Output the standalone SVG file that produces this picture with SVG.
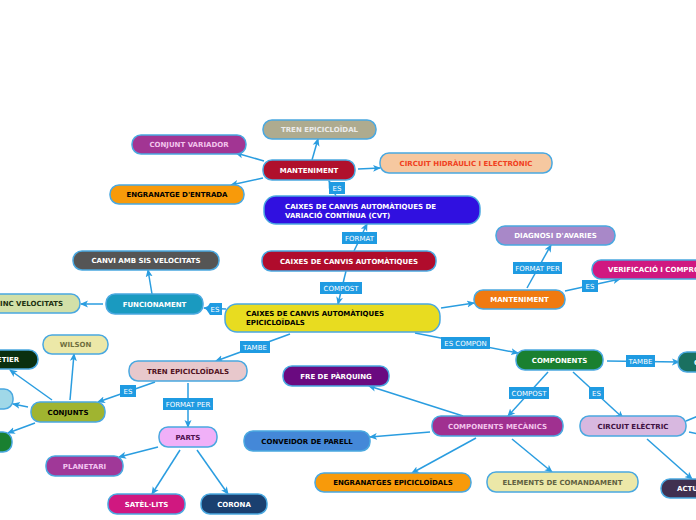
<svg xmlns="http://www.w3.org/2000/svg" width="696" height="520" viewBox="0 0 696 520">
<defs>
<marker id="ah" markerWidth="8" markerHeight="8" refX="7" refY="4" orient="auto" markerUnits="userSpaceOnUse">
<path d="M0,0.5 L8,4 L0,7.5 L2,4 Z" fill="#2a9de0"/>
</marker>
<style>
.n rect{stroke:#4aa8e0;stroke-width:1.5}
.n text{font-family:"DejaVu Sans",Verdana,sans-serif;font-weight:bold;font-size:7px;text-anchor:middle}
.n text.l{text-anchor:start}
.c line{stroke:#2a9de0;stroke-width:1.5;marker-end:url(#ah)}
.c line.na{marker-end:none}
.t rect,.t polygon{fill:#1f9be2}
.t text{font-family:"DejaVu Sans",Verdana,sans-serif;font-size:7px;fill:#ffffff;text-anchor:middle}
</style>
</defs>
<rect width="696" height="520" fill="#ffffff"/>
<g class="c" id="connectors">
<line x1="336" y1="196" x2="329" y2="181"/>
<line x1="312" y1="160" x2="318" y2="139"/>
<line x1="264" y1="161" x2="236" y2="153"/>
<line x1="263" y1="178" x2="231" y2="185"/>
<line x1="358" y1="169" x2="380" y2="168"/>
<line x1="354" y1="251" x2="367" y2="224"/>
<line x1="346" y1="271" x2="338" y2="304"/>
<line x1="226" y1="309" x2="204" y2="308"/>
<line x1="152" y1="294" x2="148" y2="270"/>
<line x1="103" y1="304" x2="81" y2="304"/>
<line x1="441" y1="308" x2="474" y2="303"/>
<line x1="527" y1="288" x2="551" y2="245"/>
<line x1="565" y1="291" x2="620" y2="279"/>
<line x1="415" y1="333" x2="518" y2="353"/>
<line x1="290" y1="334" x2="216" y2="361"/>
<line x1="607" y1="361" x2="679" y2="362"/>
<line x1="548" y1="372" x2="508" y2="416"/>
<line x1="573" y1="372" x2="623" y2="418"/>
<line x1="155" y1="382" x2="98" y2="402"/>
<line x1="188" y1="383" x2="188" y2="427"/>
<line x1="70" y1="400" x2="74" y2="354"/>
<line x1="52" y1="400" x2="10" y2="370"/>
<line x1="28" y1="407" x2="13" y2="404"/>
<line x1="35" y1="423" x2="8" y2="433"/>
<line x1="158" y1="447" x2="119" y2="457"/>
<line x1="180" y1="450" x2="152" y2="494"/>
<line x1="197" y1="450" x2="228" y2="494"/>
<line x1="463" y1="416" x2="369" y2="386"/>
<line x1="430" y1="432" x2="370" y2="437"/>
<line x1="476" y1="438" x2="412" y2="473"/>
<line x1="512" y1="439" x2="552" y2="472"/>
<line x1="647" y1="439" x2="692" y2="479"/>
<line class="na" x1="686" y1="421" x2="698" y2="416"/>
<line class="na" x1="689" y1="432" x2="698" y2="434"/>
</g>
<g class="t" id="labels">
<g><rect x="329" y="182" width="16" height="12"/><text x="337" y="191">ES</text></g>
<g><rect x="342" y="232" width="35" height="12"/><text x="359.5" y="241">FORMAT</text></g>
<g><rect x="320" y="282" width="42" height="12"/><text x="341" y="291">COMPOST</text></g>
<g><polygon points="206,309 210,303 222,303 222,315 210,315"/><text x="215" y="312">ES</text></g>
<g><rect x="513" y="262" width="49" height="12"/><text x="537.5" y="271">FORMAT PER</text></g>
<g><rect x="582" y="280" width="16" height="12"/><text x="590" y="289">ES</text></g>
<g><rect x="240" y="341" width="30" height="12"/><text x="255" y="350">TAMBE</text></g>
<g><rect x="441" y="337" width="49" height="12"/><text x="465.5" y="346">ES COMPON</text></g>
<g><rect x="626" y="355" width="29" height="12"/><text x="640.5" y="364">TAMBE</text></g>
<g><rect x="509" y="387" width="40" height="12"/><text x="529" y="396">COMPOST</text></g>
<g><rect x="589" y="387" width="15" height="12"/><text x="596.5" y="396">ES</text></g>
<g><rect x="120" y="385" width="16" height="12"/><text x="128" y="394">ES</text></g>
<g><rect x="163" y="398" width="50" height="12"/><text x="188" y="407">FORMAT PER</text></g>
</g>
<g class="n" id="n-tren-epicicloidal"><rect x="263" y="120" width="113" height="19" rx="9" fill="#aeab8f"/><text x="319.5" y="132" fill="#ececec">TREN EPICICLOÏDAL</text></g>
<g class="n" id="n-conjunt-variador"><rect x="132" y="135" width="114" height="19" rx="9" fill="#a23593"/><text x="189" y="147" fill="#f2c4ec">CONJUNT VARIADOR</text></g>
<g class="n" id="n-manteniment1"><rect x="263" y="160" width="92" height="20" rx="9" fill="#b0102c"/><text x="309" y="172.5" fill="#ffffff">MANTENIMENT</text></g>
<g class="n" id="n-circuit-hidraulic"><rect x="380" y="153" width="172" height="20" rx="9" fill="#f6c8a0"/><text x="466" y="165.5" fill="#f04020">CIRCUIT HIDRÀULIC I ELECTRÒNIC</text></g>
<g class="n" id="n-engranatge"><rect x="110" y="185" width="134" height="19" rx="9" fill="#f89a0a"/><text x="177" y="197" fill="#000000">ENGRANATGE D'ENTRADA</text></g>
<g class="n" id="n-cvt"><rect x="264" y="196" width="216" height="28" rx="12" fill="#3010e0"/><text class="l" x="285" y="208.5" fill="#ffffff">CAIXES DE CANVIS AUTOMÀTIQUES DE</text><text class="l" x="285" y="217.5" fill="#ffffff">VARIACIÓ CONTÍNUA (CVT)</text></g>
<g class="n" id="n-caixes-auto"><rect x="262" y="251" width="174" height="20" rx="9" fill="#b00c2c"/><text x="349" y="263.5" fill="#ffffff">CAIXES DE CANVIS AUTOMÀTIQUES</text></g>
<g class="n" id="n-canvi-sis"><rect x="73" y="251" width="146" height="19" rx="9" fill="#555555"/><text x="146" y="263" fill="#ffffff">CANVI AMB SIS VELOCITATS</text></g>
<g class="n" id="n-funcionament"><rect x="106" y="294" width="97" height="20" rx="9" fill="#1a9ac0"/><text x="154.5" y="306.5" fill="#ffffff">FUNCIONAMENT</text></g>
<g class="n" id="n-cinc"><rect x="-22" y="294" width="102" height="19" rx="9" fill="#d2e0a8"/><text x="29" y="306" fill="#203010">CINC VELOCITATS</text></g>
<g class="n" id="n-main"><rect x="225" y="304" width="215" height="28" rx="12" fill="#e8dc20"/><text class="l" x="246" y="316" fill="#000000">CAIXES DE CANVIS AUTOMÀTIQUES</text><text class="l" x="246" y="325" fill="#000000">EPICICLOÏDALS</text></g>
<g class="n" id="n-manteniment2"><rect x="474" y="290" width="91" height="19" rx="9" fill="#f07a10"/><text x="519.5" y="302" fill="#ffffff">MANTENIMENT</text></g>
<g class="n" id="n-diagnosi"><rect x="496" y="226" width="119" height="19" rx="9" fill="#a888c8"/><text x="555.5" y="238" fill="#ffffff">DIAGNOSI D'AVARIES</text></g>
<g class="n" id="n-verificacio"><rect x="592" y="260" width="140" height="19" rx="9" fill="#d01880"/><text class="l" x="608" y="272" fill="#ffffff">VERIFICACIÓ I COMPROVACIÓ</text></g>
<g class="n" id="n-components"><rect x="516" y="350" width="87" height="20" rx="9" fill="#1a8030"/><text x="559.5" y="362.5" fill="#ffffff">COMPONENTS</text></g>
<g class="n" id="n-teal"><rect x="678" y="352" width="110" height="20" rx="9" fill="#1a7060"/><text class="l" x="694" y="364.5" fill="#ffffff">CIRCUIT HIDRÀULIC</text></g>
<g class="n" id="n-wilson"><rect x="43" y="335" width="65" height="19" rx="9" fill="#ece8a8"/><text x="75.5" y="347" fill="#707040">WILSON</text></g>
<g class="n" id="n-lepelletier"><rect x="-60" y="350" width="98" height="19" rx="9" fill="#0a3010"/><text x="-6" y="362" fill="#ffffff">LEPELLETIER</text></g>
<g class="n" id="n-tren-epicicloidals"><rect x="129" y="361" width="118" height="20" rx="9" fill="#e8c8cc"/><text x="188" y="373.5" fill="#501020">TREN EPICICLOÏDALS</text></g>
<g class="n" id="n-lightblue"><rect x="-60" y="389" width="73" height="20" rx="9" fill="#a0d8e8"/></g>
<g class="n" id="n-conjunts"><rect x="31" y="402" width="74" height="20" rx="9" fill="#a0b430"/><text x="68" y="414.5" fill="#000000">CONJUNTS</text></g>
<g class="n" id="n-green"><rect x="-60" y="432" width="72" height="20" rx="9" fill="#1a8030"/></g>
<g class="n" id="n-parts"><rect x="159" y="427" width="58" height="20" rx="9" fill="#f0b0f8"/><text x="188" y="439.5" fill="#501050">PARTS</text></g>
<g class="n" id="n-fre"><rect x="283" y="366" width="106" height="20" rx="9" fill="#6a0a80"/><text x="336" y="378.5" fill="#ffffff">FRE DE PÀRQUING</text></g>
<g class="n" id="n-conveidor"><rect x="244" y="431" width="126" height="20" rx="9" fill="#4488d8"/><text x="307" y="443.5" fill="#000000">CONVEIDOR DE PARELL</text></g>
<g class="n" id="n-comp-mec"><rect x="432" y="416" width="131" height="20" rx="9" fill="#a03090"/><text x="497.5" y="428.5" fill="#f2c4ec">COMPONENTS MECÀNICS</text></g>
<g class="n" id="n-circuit-electric"><rect x="580" y="416" width="106" height="20" rx="9" fill="#d8b8e0"/><text x="633" y="428.5" fill="#401040">CIRCUIT ELÈCTRIC</text></g>
<g class="n" id="n-planetari"><rect x="46" y="456" width="77" height="20" rx="9" fill="#a03898"/><text x="84.5" y="468.5" fill="#f2c4f0">PLANETARI</text></g>
<g class="n" id="n-satellits"><rect x="108" y="494" width="77" height="20" rx="9" fill="#d01880"/><text x="146.5" y="506.5" fill="#ffffff">SATÈL·LITS</text></g>
<g class="n" id="n-corona"><rect x="201" y="494" width="66" height="20" rx="9" fill="#1a4070"/><text x="234" y="506.5" fill="#ffffff">CORONA</text></g>
<g class="n" id="n-engranatges"><rect x="315" y="473" width="156" height="19" rx="9" fill="#f89a0a"/><text x="393" y="485" fill="#000000">ENGRANATGES EPICICLOÏDALS</text></g>
<g class="n" id="n-elements"><rect x="487" y="472" width="151" height="20" rx="9" fill="#ece8a8"/><text x="562.5" y="484.5" fill="#606040">ELEMENTS DE COMANDAMENT</text></g>
<g class="n" id="n-actuadors"><rect x="661" y="479" width="80" height="19" rx="9" fill="#403050"/><text class="l" x="677" y="491" fill="#ffffff">ACTUADORS</text></g>
</svg>
